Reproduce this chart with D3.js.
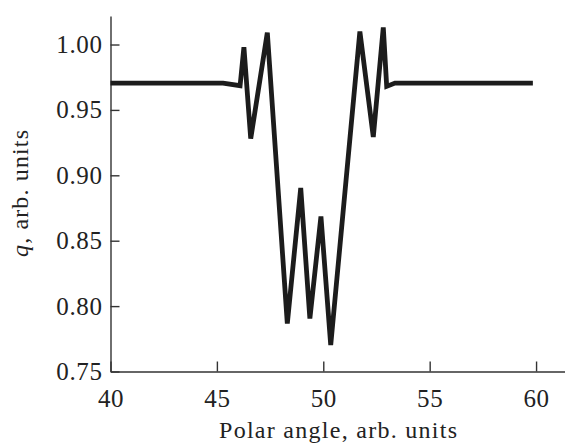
<!DOCTYPE html>
<html>
<head>
<meta charset="utf-8">
<script src="https://cdn.jsdelivr.net/npm/d3@7"></script>
<style>
  body { margin: 0; background: #fff; }
  .axis text { font-family: "Liberation Serif", "DejaVu Serif", serif; font-size: 25px; letter-spacing: 0.6px; fill: #222; }
  .axis path, .axis line { stroke: #333; stroke-width: 1.4; }
</style>
</head>
<body>
<div id="chart"></div>
<script>
// polar angle (x) and q (y)
const angles = [40, 45.29, 46.09, 46.27, 46.59, 47.37, 48.31, 48.94, 49.37, 49.89, 50.35, 51.72, 52.35, 52.82, 52.98, 53.37, 59.85];
const qValues = [0.9705, 0.9705, 0.9685, 0.998, 0.928, 1.009, 0.7867, 0.8903, 0.7905, 0.8685, 0.7703, 1.010, 0.9293, 1.013, 0.968, 0.9705, 0.9705];
const xTicks = [40, 45, 50, 55, 60];
const yTicks = [0.75, 0.80, 0.85, 0.90, 0.95, 1.00];

const width = 565, height = 443;
const svg = d3.select("#chart").append("svg").attr("width", width).attr("height", height);

const x = d3.scaleLinear().domain([40, 61.36]).range([110.5, 565]);
const y = d3.scaleLinear().domain([0.75, 1.0218]).range([371.5, 16]);

const data = angles.map((a, i) => ({ a: a, q: qValues[i] }));

// axes, ticks point inward
const xAxis = d3.axisBottom(x).tickValues(xTicks).tickFormat(d3.format("d")).tickSizeInner(-10).tickSizeOuter(0).tickPadding(18);
const yAxis = d3.axisLeft(y).tickValues(yTicks).tickFormat(d3.format(".2f")).tickSizeInner(-9).tickSizeOuter(0).tickPadding(8);

svg.append("g").attr("class", "axis").attr("transform", "translate(0,371.5)").call(xAxis);
svg.append("g").attr("class", "axis").attr("transform", "translate(110.5,0)").call(yAxis);

const line = d3.line().x((d) => x(d.a)).y((d) => y(d.q));
svg.append("path")
  .datum(data)
  .attr("d", line)
  .attr("fill", "none")
  .attr("stroke", "#1c1c1c")
  .attr("stroke-width", 4.8)
  .attr("stroke-linejoin", "miter")
  .attr("stroke-miterlimit", 6);

// Axis titles
svg.append("text")
  .attr("x", 338)
  .attr("y", 438)
  .attr("text-anchor", "middle")
  .attr("textLength", 238)
  .attr("lengthAdjust", "spacing")
  .style("font-family", "Liberation Serif, serif")
  .style("font-size", "24px")
  .style("fill", "#222")
  .text("Polar angle, arb. units");

const yLabel = svg.append("text")
  .attr("transform", "translate(28,193.5) rotate(-90)")
  .attr("text-anchor", "middle")
  .attr("textLength", 127)
  .attr("lengthAdjust", "spacing")
  .style("font-family", "Liberation Serif, serif")
  .style("font-size", "24px")
  .style("fill", "#222");
yLabel.append("tspan").style("font-style", "italic").text("q");
yLabel.append("tspan").text(", arb. units");
</script>
</body>
</html>
